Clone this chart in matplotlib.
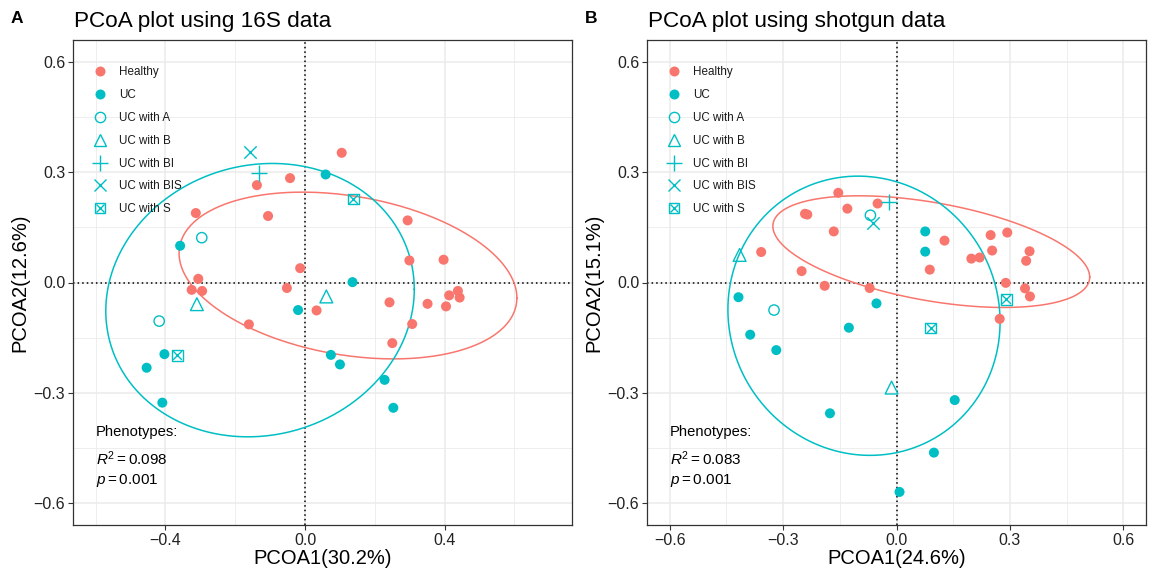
import numpy as np
import matplotlib
matplotlib.use("Agg")
import matplotlib.pyplot as plt
from matplotlib.lines import Line2D

plt.rcParams['font.family'] = ['Liberation Sans', 'DejaVu Sans']
plt.rcParams['mathtext.fontset'] = 'custom'
plt.rcParams['mathtext.rm'] = 'Liberation Sans'
plt.rcParams['mathtext.it'] = 'Liberation Sans:italic'

# ---------------- data: 16S ----------------
s16_healthy_x = [0.105, -0.043, -0.138, -0.313, -0.106, 0.294, 0.299, 0.397, -0.014, -0.306,
                 -0.325, -0.295, -0.052, 0.033, -0.161, 0.242, 0.351, 0.404, 0.413, 0.438,
                 0.443, 0.307, 0.250]
s16_healthy_y = [0.353, 0.284, 0.265, 0.189, 0.181, 0.169, 0.060, 0.062, 0.039, 0.010,
                 -0.020, -0.023, -0.015, -0.076, -0.114, -0.054, -0.058, -0.065, -0.035, -0.023,
                 -0.041, -0.113, -0.165]
s16_uc_x = [0.059, -0.358, 0.136, -0.020, -0.403, -0.454, -0.409, 0.074, 0.100, 0.228, 0.253]
s16_uc_y = [0.294, 0.100, 0.001, -0.075, -0.195, -0.232, -0.327, -0.197, -0.223, -0.265, -0.341]
s16_a_x, s16_a_y = [-0.296, -0.418], [0.122, -0.105]
s16_b_x, s16_b_y = [-0.310, 0.061], [-0.059, -0.038]
s16_bi_x, s16_bi_y = [-0.131], [0.298]
s16_bis_x, s16_bis_y = [-0.159], [0.355]
s16_s_x, s16_s_y = [0.138, -0.366], [0.227, -0.198]
# ellipse: centre and 2x2 shape matrix [xx, xy, yy]
s16_ell_healthy = [0.123, 0.019, 0.2343, -0.0295, 0.0515]
s16_ell_uc = [-0.129, -0.048, 0.1954, 0.013, 0.1384]
s16_stats = ["0.098", "0.001"]

# ---------------- data: shotgun ----------------
sg_healthy_x = [-0.154, -0.050, -0.130, -0.242, -0.236, -0.166, 0.127, 0.249, 0.293, -0.358,
                0.253, 0.352, 0.198, 0.220, 0.343, 0.088, -0.251, -0.190, -0.071, 0.289,
                0.340, 0.353, 0.273]
sg_healthy_y = [0.244, 0.215, 0.201, 0.187, 0.185, 0.139, 0.114, 0.129, 0.136, 0.083,
                0.087, 0.085, 0.065, 0.068, 0.059, 0.035, 0.031, -0.009, -0.015, -0.001,
                -0.016, -0.038, -0.099]
sg_uc_x = [0.076, 0.076, -0.418, -0.053, -0.387, -0.318, -0.126, -0.176, 0.154, 0.099, 0.008]
sg_uc_y = [0.139, 0.084, -0.040, -0.057, -0.142, -0.184, -0.123, -0.356, -0.320, -0.463, -0.570]
sg_a_x, sg_a_y = [-0.069, -0.324], [0.183, -0.075]
sg_b_x, sg_b_y = [-0.415, -0.013], [0.075, -0.286]
sg_bi_x, sg_bi_y = [-0.020], [0.218]
sg_bis_x, sg_bis_y = [-0.061], [0.162]
sg_s_x, sg_s_y = [0.290, 0.090], [-0.046, -0.124]
sg_ell_healthy = [0.092, 0.084, 0.1756, -0.029, 0.0231]
sg_ell_uc = [-0.086, -0.0905, 0.1296, -0.006, 0.1444]
sg_stats = ["0.083", "0.001"]

legend_labels = ["Healthy", "UC", "UC with A", "UC with B", "UC with BI", "UC with BIS", "UC with S"]
x_ticks_16s = [-0.4, 0.0, 0.4]
x_ticks_sg = [-0.6, -0.3, 0.0, 0.3, 0.6]
y_ticks = [-0.6, -0.3, 0.0, 0.3, 0.6]

RED = "#F8766D"
TEAL = "#00BFC4"
W, H = 1153, 570

fig = plt.figure(figsize=(W / 100, H / 100), dpi=100)


def fmt(v):
    s = f"{v:.1f}"
    if s == "-0.0":
        s = "0.0"
    return s.replace("-", "\u2212")


def ellipse_pts(p):
    cx, cy, xx, xy, yy = p
    L = np.linalg.cholesky(np.array([[xx, xy], [xy, yy]]))
    t = np.linspace(0, 2 * np.pi, 300)
    pts = L @ np.vstack([np.cos(t), np.sin(t)])
    return cx + pts[0], cy + pts[1]


def panel(rect, xlim, xticks, xminor, data, ells, stats, title, letter, letter_x, xlabel, ylabel):
    ax = fig.add_axes(rect)
    ax.set_xlim(*xlim)
    ax.set_ylim(-0.66, 0.66)
    ax.set_xticks(xticks)
    ax.set_xticklabels([fmt(v) for v in xticks])
    ax.set_xticks(xminor, minor=True)
    ax.set_yticks(y_ticks)
    ax.set_yticklabels([fmt(v) for v in y_ticks])
    ax.set_yticks([-0.45, -0.15, 0.15, 0.45], minor=True)
    ax.grid(True, which='major', color='#EBEBEB', lw=1.1, zorder=0)
    ax.grid(True, which='minor', color='#EBEBEB', lw=0.6, zorder=0)
    ax.set_axisbelow(True)
    ax.tick_params(which='major', length=3.5, width=0.8, color='#333333', labelsize=11.5,
                   labelcolor='#222222', pad=2)
    ax.tick_params(which='minor', length=0)
    for sp in ax.spines.values():
        sp.set_color('#333333')
        sp.set_linewidth(0.9)

    ax.axvline(0, color='black', ls=(0, (1, 2)), lw=1.1, zorder=1)
    ax.axhline(0, color='black', ls=(0, (1, 2)), lw=1.1, zorder=1)

    ex, ey = ellipse_pts(ells[0])
    ax.plot(ex, ey, color=RED, lw=1.1, zorder=2)
    ex, ey = ellipse_pts(ells[1])
    ax.plot(ex, ey, color=TEAL, lw=1.1, zorder=2)

    (hx, hy), (ux, uy), (ax_, ay_), (bx, by), (bix, biy), (bisx, bisy), (sx, sy) = data
    ax.scatter(hx, hy, s=52, color=RED, edgecolors='none', zorder=3)
    ax.scatter(ux, uy, s=52, color=TEAL, edgecolors='none', zorder=3)
    ax.scatter(ax_, ay_, s=55, facecolors='none', edgecolors=TEAL, linewidths=1.0, zorder=3)
    ax.scatter(bx, by, s=85, marker='^', facecolors='none', edgecolors=TEAL, linewidths=1.0, zorder=3)
    ax.scatter(bix, biy, s=130, marker='+', color=TEAL, linewidths=1.0, zorder=3)
    ax.scatter(bisx, bisy, s=80, marker='x', color=TEAL, linewidths=1.0, zorder=3)
    ax.scatter(sx, sy, s=60, marker='s', facecolors='none', edgecolors=TEAL, linewidths=1.0, zorder=3)
    ax.scatter(sx, sy, s=40, marker='x', color=TEAL, linewidths=1.0, zorder=3)

    handles = [
        Line2D([], [], ls='none', marker='o', ms=7.2, color=RED, mec='none'),
        Line2D([], [], ls='none', marker='o', ms=7.2, color=TEAL, mec='none'),
        Line2D([], [], ls='none', marker='o', ms=7.4, mfc='none', mec=TEAL, mew=1.0),
        Line2D([], [], ls='none', marker='^', ms=9.2, mfc='none', mec=TEAL, mew=1.0),
        Line2D([], [], ls='none', marker='+', ms=11.4, color=TEAL, mew=1.0),
        Line2D([], [], ls='none', marker='x', ms=9.0, color=TEAL, mew=1.0),
        (Line2D([], [], ls='none', marker='s', ms=7.7, mfc='none', mec=TEAL, mew=1.0),
         Line2D([], [], ls='none', marker='x', ms=6.3, color=TEAL, mew=1.0)),
    ]
    leg = ax.legend(handles, legend_labels, loc='upper left', bbox_to_anchor=(0.0375, 0.946),
                    frameon=False, fontsize=8.4, borderpad=0, borderaxespad=0,
                    handlelength=1.45, handletextpad=0.9, labelspacing=0.93)
    for t in leg.get_texts():
        t.set_color('#1a1a1a')

    ax.text(-0.6, -0.406, "Phenotypes:", fontsize=10.6, va='center', ha='left', color='black')
    ax.text(-0.6, -0.48, r"$\mathit{R}^2 = \mathrm{" + stats[0] + "}$", fontsize=11,
            va='center', ha='left')
    ax.text(-0.6, -0.54, r"$\mathit{p} = \mathrm{" + stats[1] + "}$", fontsize=11,
            va='center', ha='left')

    ax.set_xlabel(xlabel, fontsize=14.5, labelpad=1, color='black')
    ax.set_ylabel(ylabel, fontsize=14.5, labelpad=3, color='black')

    fig.text(rect[0] + 0.001, 1 - 27 / H, title, fontsize=16.2, ha='left', va='baseline', color='black')
    fig.text(letter_x / W, 1 - 23 / H, letter, fontsize=12.5, fontweight='bold', ha='left', va='baseline')
    return ax


bottom = 1 - 525 / H
height = 485 / H
panel([73 / W, bottom, 499 / W, height], (-0.665, 0.765), x_ticks_16s, [-0.6, -0.2, 0.2, 0.6],
      [(s16_healthy_x, s16_healthy_y), (s16_uc_x, s16_uc_y), (s16_a_x, s16_a_y),
       (s16_b_x, s16_b_y), (s16_bi_x, s16_bi_y), (s16_bis_x, s16_bis_y), (s16_s_x, s16_s_y)],
      (s16_ell_healthy, s16_ell_uc), s16_stats, "PCoA plot using 16S data", "A", 11,
      "PCOA1(30.2%)", "PCOA2(12.6%)")
panel([647 / W, bottom, 499 / W, height], (-0.66, 0.66), x_ticks_sg, [-0.45, -0.15, 0.15, 0.45],
      [(sg_healthy_x, sg_healthy_y), (sg_uc_x, sg_uc_y), (sg_a_x, sg_a_y),
       (sg_b_x, sg_b_y), (sg_bi_x, sg_bi_y), (sg_bis_x, sg_bis_y), (sg_s_x, sg_s_y)],
      (sg_ell_healthy, sg_ell_uc), sg_stats, "PCoA plot using shotgun data", "B", 585,
      "PCOA1(24.6%)", "PCOA2(15.1%)")

fig.savefig("out.png", dpi=100, facecolor='white')
